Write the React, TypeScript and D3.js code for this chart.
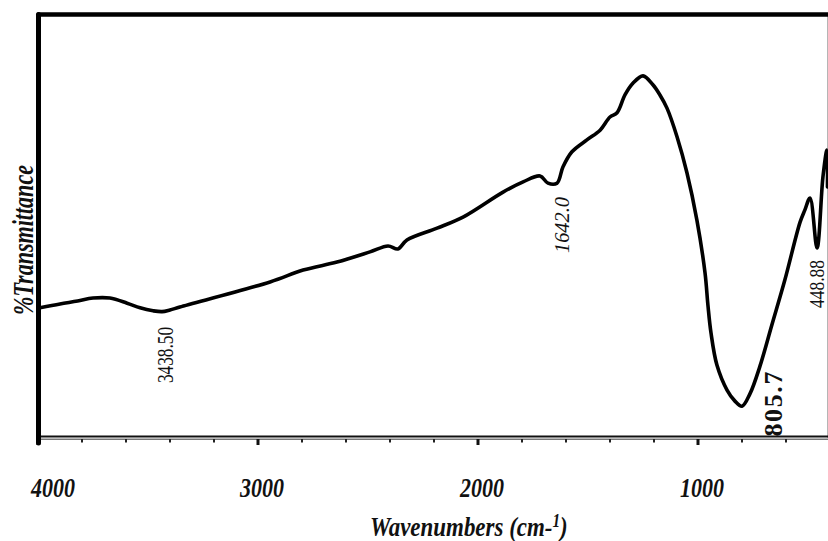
import React from "react";
import * as d3 from "d3";

// IR spectrum: wavenumber (cm-1) and % transmittance (arbitrary scale 0-100)
const wavenumbers = [
  3991, 3900, 3820, 3750, 3673, 3595, 3536, 3477, 3436, 3400, 3355, 2945, 2795, 2641,
  2491, 2409, 2364, 2323, 2186, 2068, 1886, 1795, 1718, 1682, 1641, 1614, 1573, 1505,
  1445, 1400, 1368, 1332, 1295, 1250, 1205, 1173, 1141, 1095, 1050, 1005, 968, 955,
  941, 914, 868, 832, 800, 764, 718, 664, 605, 536, 514, 491, 459, 432, 414, 411.5,
];
const transmittance = [
  30.7, 31.6, 32.3, 33.0, 33.0, 31.8, 30.7, 30.0, 29.8, 30.2, 30.9, 36.8, 39.6, 41.5,
  43.9, 45.3, 44.6, 46.7, 49.5, 52.1, 58.0, 60.4, 61.8, 60.1, 60.1, 63.9, 67.5, 70.3,
  72.6, 75.7, 76.7, 80.9, 83.7, 85.4, 83.3, 80.9, 77.8, 71.0, 62.5, 51.4, 38.9, 31.4,
  24.8, 17.2, 11.3, 8.7, 7.5, 10.4, 17.0, 26.7, 37.3, 50.9, 53.8, 56.6, 44.8, 61.6, 67.9, 59.2,
];

const majorTicks = [4000, 3000, 2000, 1000];
const minorTicks = [3800, 3600, 3400, 3200, 2800, 2600, 2400, 2200, 1800, 1600, 1400, 1200, 800, 600];

const peakLabels = ["3438.50", "1642.0", "805.7", "448.88"];
const peakWavenumbers = [3438.5, 1642.0, 805.7, 448.88];

const W = 828;
const H = 541;

export default function App() {
  const x = d3.scaleLinear().domain([4000, 400]).range([38, 830]);
  const y = d3.scaleLinear().domain([0, 100]).range([438, 14]);

  const pts = wavenumbers.map((w, i) => [w, transmittance[i]] as [number, number]);
  const line = d3
    .line<[number, number]>()
    .x((d) => x(d[0]))
    .y((d) => y(d[1]))
    .curve(d3.curveCatmullRom.alpha(0.5));
  const path = line(pts) || "";

  const serif = "'Liberation Serif', 'Times New Roman', serif";

  const annStyle = [
    { cy: 355, len: 56, size: 23, weight: "normal", italic: false, spacing: false, dx: 4 },
    { cy: 225, len: 56, size: 22, weight: "normal", italic: true, spacing: false, dx: 5 },
    { cy: 404, len: 65, size: 26, weight: "bold", italic: false, spacing: true, dx: 33 },
    { cy: 284, len: 48, size: 21, weight: "normal", italic: false, spacing: false, dx: -2 },
  ];

  return (
    <svg
      width={W}
      height={H}
      style={{ position: "absolute", left: 0, top: 0, background: "#fff" }}
      fontFamily={serif}
    >
      <defs>
        <clipPath id="plotclip">
          <rect x={38} y={0} width={790} height={440} />
        </clipPath>
      </defs>
      <rect x={0} y={0} width={W} height={H} fill="#fff" />

      {/* right light border */}
      <line x1={827.5} x2={827.5} y1={14} y2={438} stroke="#b5b5b5" strokeWidth={1} />

      {/* bottom axis: double line */}
      <line x1={38} x2={828} y1={436.5} y2={436.5} stroke="#111" strokeWidth={2} />
      <line x1={38} x2={828} y1={439.2} y2={439.2} stroke="#777" strokeWidth={1.5} />
      {minorTicks.map((t) => (
        <line key={"mi" + t} x1={x(t)} x2={x(t)} y1={439} y2={442.5} stroke="#222" strokeWidth={2} />
      ))}
      {majorTicks.map((t) => (
        <line key={"ma" + t} x1={x(t)} x2={x(t)} y1={439} y2={445} stroke="#111" strokeWidth={3} />
      ))}

      {/* frame: top and left thick lines */}
      <line x1={38.5} x2={828} y1={14.5} y2={14.5} stroke="#000" strokeWidth={4.5} strokeLinecap="round" />
      <line x1={38.5} x2={38.5} y1={14.5} y2={443} stroke="#000" strokeWidth={5} strokeLinecap="round" />

      {/* spectrum */}
      <path
        d={path}
        fill="none"
        stroke="#000"
        strokeWidth={3.6}
        strokeLinejoin="round"
        strokeLinecap="round"
        clipPath="url(#plotclip)"
      />

      {/* tick labels */}
      {majorTicks.map((t, i) => (
        <text
          key={"tl" + t}
          x={i === 0 ? x(t) - 7 : x(t) + 4}
          y={497}
          textAnchor={i === 0 ? "start" : "middle"}
          fontSize={27}
          fontWeight="bold"
          fontStyle="italic"
          textLength={44}
          lengthAdjust="spacingAndGlyphs"
          fill="#111"
        >
          {t}
        </text>
      ))}

      {/* x axis title */}
      <g transform="translate(370,536) scale(0.85,1)">
        <text
          x={0}
          y={0}
          fontSize={27}
          fontWeight="bold"
          fontStyle="italic"
          fill="#111"
        >
          Wavenumbers (cm-
          <tspan fontSize={18} dy={-9}>1</tspan>
          <tspan dy={9}>)</tspan>
        </text>
      </g>

      {/* y axis title */}
      <text
        transform="translate(33,240) rotate(-90)"
        textAnchor="middle"
        fontSize={30}
        fontWeight="bold"
        fontStyle="italic"
        fill="#111"
        textLength={150}
        lengthAdjust="spacingAndGlyphs"
      >
        %Transmittance
      </text>

      {/* peak annotations */}
      {peakLabels.map((lab, i) => {
        const s = annStyle[i];
        const cx = x(peakWavenumbers[i]) + s.dx;
        return (
          <text
            key={lab}
            transform={`translate(${cx},${s.cy}) rotate(-90)`}
            textAnchor="middle"
            dominantBaseline="central"
            fontSize={s.size}
            fontWeight={s.weight}
            fontStyle={s.italic ? "italic" : "normal"}
            textLength={s.len}
            lengthAdjust={s.spacing ? "spacing" : "spacingAndGlyphs"}
            fill="#111"
          >
            {lab}
          </text>
        );
      })}
    </svg>
  );
}
